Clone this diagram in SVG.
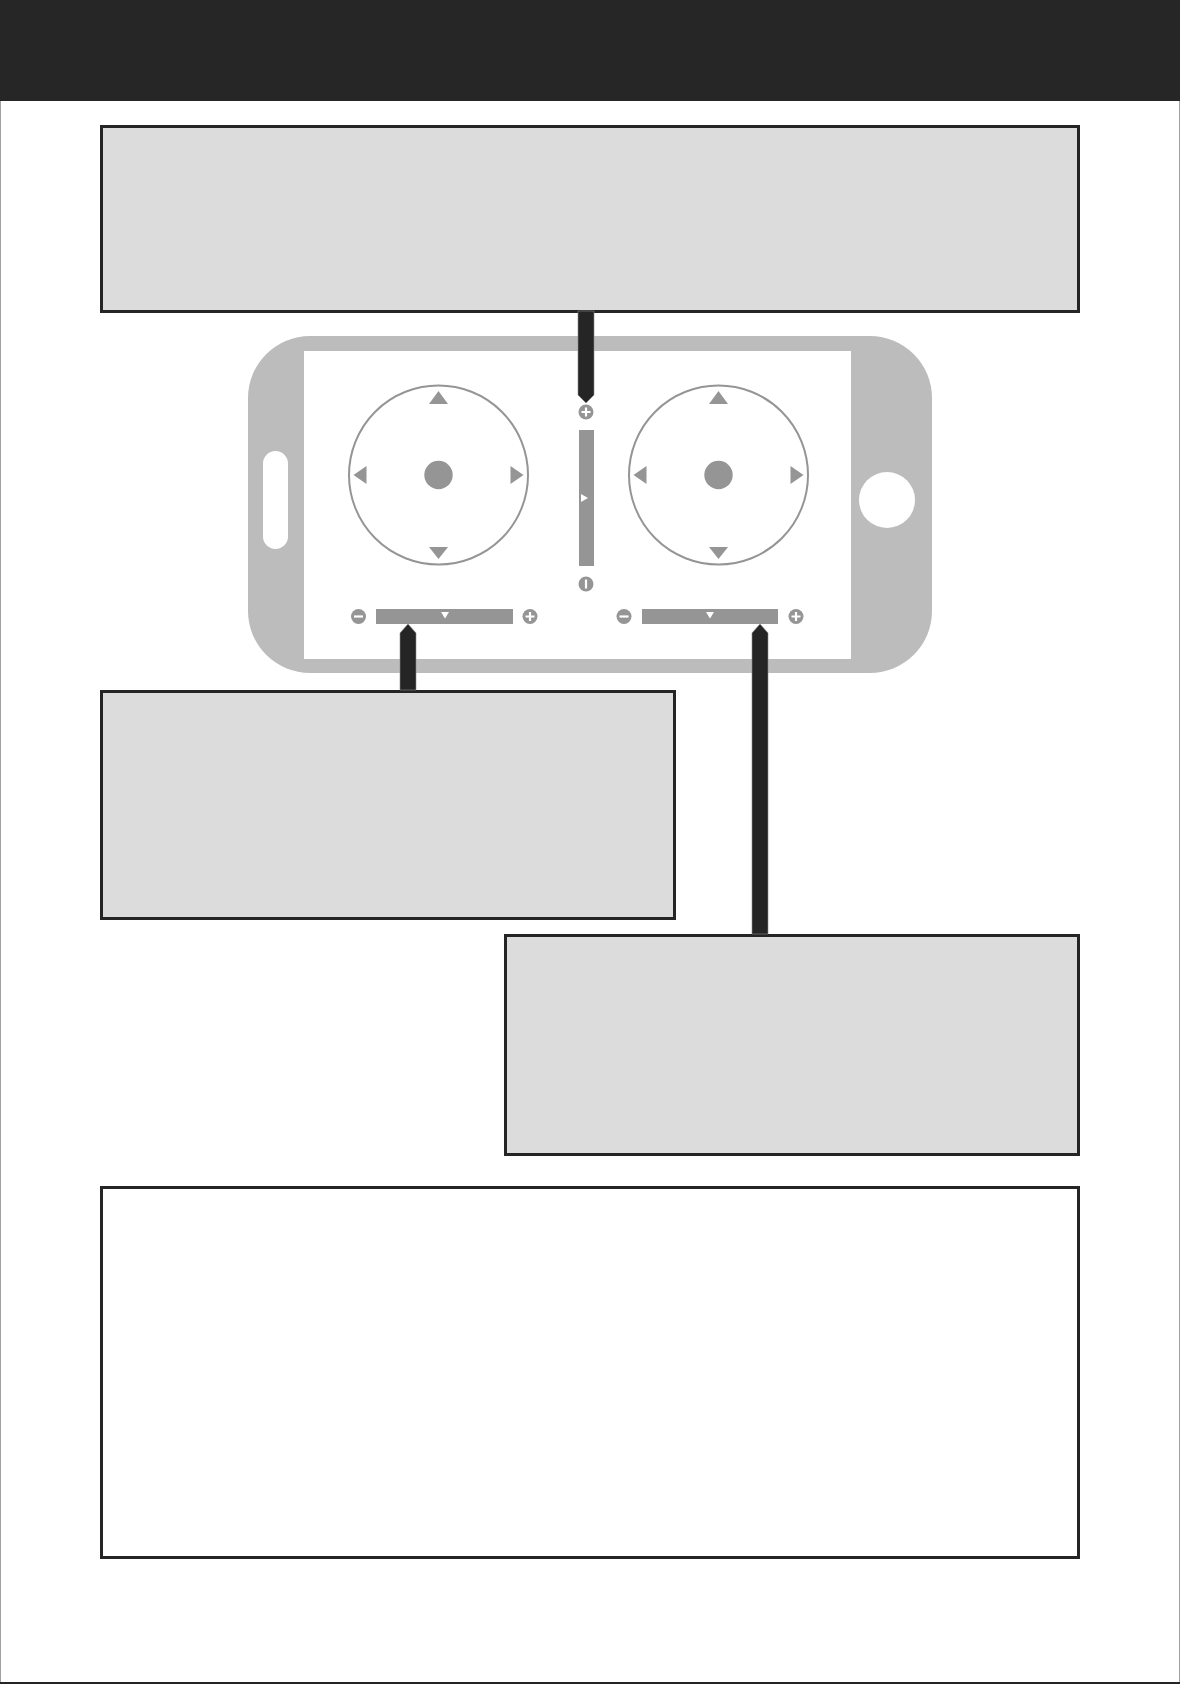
<svg xmlns="http://www.w3.org/2000/svg" width="1180" height="1684" viewBox="0 0 1180 1684">
<style>
.box{fill:#dcdcdc;stroke:#252525;stroke-width:3}
.boxw{fill:#ffffff;stroke:#252525;stroke-width:3}
.ctl{fill:#959595}
.wh{fill:#ffffff}
.ring{fill:#ffffff;stroke:#959595;stroke-width:2}
.glyph{stroke:#ffffff;stroke-width:2.2;stroke-linecap:butt;fill:none}
.arrow{fill:#252525;stroke:#8a8a8a;stroke-width:0.6}
</style>
<defs>
<g id="plus"><circle r="7.5" class="ctl"/><path d="M-4.5,0H4.5M0,-4.5V4.5" class="glyph"/></g>
<g id="minus"><circle r="7.5" class="ctl"/><path d="M-4.5,0H4.5" class="glyph"/></g>
<g id="bar"><circle r="7.5" class="ctl"/><path d="M0,-4.5V4.5" class="glyph"/></g>
<g id="joy">
<circle r="89.5" class="ring"/>
<circle r="14.2" class="ctl"/>
<path d="M0,-84 L9.5,-71 L-9.5,-71 Z" class="ctl"/>
<path d="M0,84 L9.5,72 L-9.5,72 Z" class="ctl"/>
<path d="M-85,0 L-72,-9 L-72,9 Z" class="ctl"/>
<path d="M85,0 L72,-9 L72,9 Z" class="ctl"/>
</g>
</defs>
<rect x="0" y="0" width="1180" height="1684" fill="#ffffff"/>
<rect x="0.5" y="0.5" width="1179" height="1683" fill="none" stroke="#a0a0a0" stroke-width="1"/>
<line x1="0" y1="1683" x2="1180" y2="1683" stroke="#252525" stroke-width="2"/>
<g id="header"><rect x="0" y="0" width="1180" height="101" fill="#262626"/></g>

<g id="phone">
<rect x="248" y="336" width="684" height="337" rx="62" ry="62" fill="#bcbcbc"/>
<rect x="304" y="351" width="547" height="308" fill="#ffffff"/>
<rect x="263" y="451" width="25" height="98" rx="12.5" ry="12.5" class="wh"/>
<circle cx="887" cy="500" r="28" class="wh"/>
</g>
<g id="joystick-left"><use href="#joy" x="438.5" y="475"/></g>
<g id="joystick-right"><use href="#joy" x="718.5" y="475"/></g>
<g id="slider-vertical">
<rect x="579" y="430" width="15" height="136" class="ctl"/>
<path d="M581,494 L588,498 L581,502 Z" class="wh"/>
<use href="#plus" x="586" y="412"/>
<use href="#bar" x="586" y="584"/>
</g>
<g id="slider-left">
<rect x="376" y="609" width="137" height="15" class="ctl"/>
<path d="M441,612 L449,612 L445,618.5 Z" class="wh"/>
<use href="#minus" x="358.5" y="616.5"/>
<use href="#plus" x="530" y="616.5"/>
</g>
<g id="slider-right">
<rect x="642" y="609" width="136" height="15" class="ctl"/>
<path d="M706,612 L714,612 L710,618.5 Z" class="wh"/>
<use href="#minus" x="624" y="616.5"/>
<use href="#plus" x="796" y="616.5"/>
</g>

<g id="box-top"><rect x="101.5" y="126.5" width="977" height="185" class="box"/></g>
<g id="box-left"><rect x="101.5" y="691.5" width="573" height="227" class="box"/></g>
<g id="box-right"><rect x="505.5" y="935.5" width="573" height="219" class="box"/></g>
<g id="box-bottom"><rect x="101.5" y="1187.5" width="977" height="370" class="boxw"/></g>

<g id="connectors">
<path d="M578,311 L594,311 L594,395 L586,403 L578,395 Z" class="arrow"/>
<path d="M400,690 L400,633 L408,624 L416,633 L416,690 Z" class="arrow"/>
<path d="M752,934 L752,633 L760,624 L768,633 L768,934 Z" class="arrow"/>
</g>
</svg>
